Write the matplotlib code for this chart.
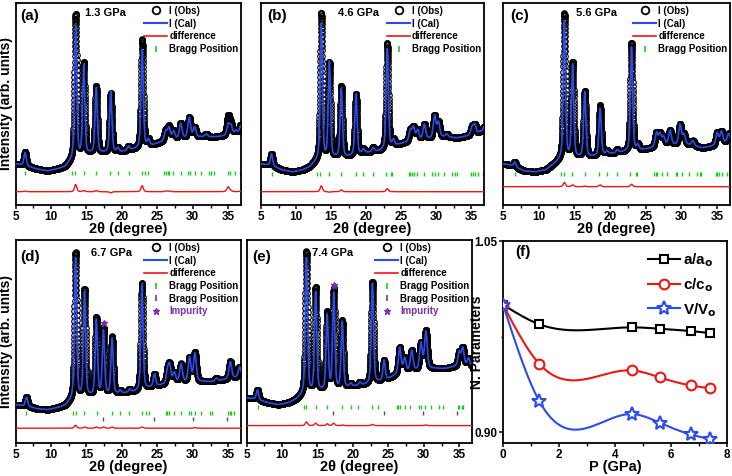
"""
plot.py - Rietveld fits of the XRD patterns at five pressures (a-e) and the
normalised lattice parameters vs pressure (f).
"""

import numpy as np
import matplotlib
matplotlib.use("Agg")
import matplotlib.pyplot as plt
from matplotlib.lines import Line2D

plt.rcParams["font.family"] = ["Liberation Sans", "DejaVu Sans"]
plt.rcParams["font.weight"] = "bold"
plt.rcParams["axes.labelweight"] = "bold"

# ----------------------------------------------------------------------------
# CONFIG
# ----------------------------------------------------------------------------
W, H = 732, 476
BLUE, RED, GREEN, PURPLE = "#2B4CEB", "#EE1515", "#22C822", "#7B2FA8"

FWHM_LOW, FWHM_HIGH, ETA = 0.38, 0.45, 0.4
DIFF_GAIN = 0.6
XLABEL_Y = -0.086          # top of the x label, in axes fraction

# background knots (2theta) shared by all patterns, intensities per panel
BG_X = [5, 6, 7, 8, 9.5, 11, 12, 13, 15.5, 17.5, 20, 22, 24.5, 26, 28, 31, 33, 34.5, 37]

# ---- (a) 1.3 GPa -----------------------------------------------------------
BG_A = [41, 40, 38, 36, 34, 36, 38, 45, 51, 52, 53, 56, 60, 64, 66, 68, 68, 69, 71]
POS_A = [6.35, 13.48, 14.62, 16.38, 18.43, 19.45, 20.95, 22.86, 23.75, 26.2, 26.65,
         27.3, 28.3, 29.5, 30.25, 31.9, 35.0, 35.4, 36.1, 36.75]
OBS_A = [14, 144, 92, 67, 59, 4, 4, 108, 6, 10, 13, 8, 15, 20, 10, 3, 19, 10, 4, 9]
CAL_A = [13, 132, 90, 65, 61, 4, 4, 98, 6, 9, 12, 8, 15, 20, 10, 3, 11, 9, 4, 8]
BRAGG_A = [6.35, 12.9, 13.45, 14.6, 16.35, 18.35, 19.45, 20.95, 22.85, 23.2, 23.7,
           25.95, 26.2, 26.45, 26.7, 27.15, 28.3, 29.3, 29.65, 30.3, 31.2, 32.25,
           32.6, 32.95, 35.0, 35.25, 35.95, 36.65]

# ---- (b) 4.6 GPa -----------------------------------------------------------
BG_B = [41, 40, 38, 35, 33, 35, 38, 44, 47, 48, 52, 54, 60, 63, 65, 68, 67, 69, 71]
POS_B = [6.5, 13.6, 14.75, 16.45, 18.55, 19.6, 21.0, 23.0, 23.9, 26.3, 26.75,
         27.35, 28.3, 29.75, 30.3, 31.5, 35.1, 35.5, 36.2, 36.8]
OBS_B = [12, 146, 95, 71, 61, 4, 4, 105, 6, 11, 13, 10, 15, 22, 15, 3, 8, 10, 3, 7]
CAL_B = [12, 136, 96, 68, 61, 4, 4, 100, 6, 11, 13, 10, 15, 22, 15, 3, 8, 10, 3, 7]
BRAGG_B = [6.5, 13.0, 13.45, 14.7, 16.45, 18.5, 19.55, 20.95, 22.85, 23.5, 23.75,
           26.05, 26.3, 26.55, 26.8, 27.25, 28.2, 29.35, 29.75, 30.2, 31.1, 32.2,
           32.6, 32.9, 35.0, 35.3, 35.5, 36.0, 36.65]

# ---- (c) 5.6 GPa -----------------------------------------------------------
BG_C = [41, 40, 37, 34, 33, 35, 40, 45, 47, 48, 51, 53, 55, 57, 60, 60, 57, 59, 64]
POS_C = [6.65, 13.6, 14.75, 16.45, 18.6, 19.6, 21.0, 23.0, 23.9, 26.5, 27.0, 27.5,
         28.4, 29.8, 30.35, 31.6, 35.0, 35.6, 36.6]
OBS_C = [5, 145, 95, 66, 50, 3, 3, 108, 5, 14, 12, 8, 14, 20, 10, 5, 12, 12, 8]
CAL_C = [5, 138, 92, 65, 47, 3, 3, 104, 5, 14, 12, 8, 14, 20, 10, 5, 12, 12, 8]
BRAGG_C = [6.68, 13.17, 13.54, 14.71, 16.43, 18.44, 19.51, 20.91, 22.78, 23.57,
           23.81, 26.14, 26.37, 26.6, 27.21, 28.0, 29.17, 29.4, 30.1, 31.04, 32.2,
           32.58, 32.77, 34.77, 35.0, 35.24, 35.7, 36.4]

# ---- (d) 6.7 GPa -----------------------------------------------------------
BG_D = [38, 37, 36, 34, 33, 35, 37, 43, 46, 47, 49, 51, 56, 58, 60, 61, 61, 63, 66]
POS_D = [6.55, 13.47, 14.73, 16.4, 17.4, 18.62, 19.75, 21.1, 22.83, 24.6, 26.45,
         26.75, 27.4, 28.35, 29.55, 30.3, 33.3, 35.3, 36.6]
OBS_D = [9, 145, 106, 77, 66, 57, 3, 3, 106, 12, 12, 16, 10, 18, 24, 29, 3, 17, 10]
CAL_D = [9, 140, 104, 75, 64, 55, 3, 3, 104, 12, 12, 16, 10, 18, 24, 28, 3, 17, 10]
BRAGG_D = [6.54, 13.1, 13.47, 14.73, 16.46, 18.62, 19.74, 21.05, 22.83, 23.39,
           23.76, 26.2, 26.43, 26.67, 27.37, 28.3, 29.47, 29.71, 30.32, 31.11,
           32.38, 32.75, 35.0, 35.18, 35.46, 35.79]
IMP_BRAGG_D = [17.4, 24.56, 30.08, 34.86]

# ---- (e) 7.4 GPa -----------------------------------------------------------
BG_E = [45, 44, 42, 40, 38, 40, 43, 48, 51, 52, 56, 58, 62, 67, 71, 74, 74, 76, 76]
POS_E = [6.55, 13.45, 14.75, 16.38, 17.3, 18.5, 19.7, 21.0, 22.75, 24.4, 26.6,
         27.3, 28.3, 29.6, 30.3, 35.0, 35.5, 36.3]
OBS_E = [10, 141, 103, 77, 100, 67, 3, 3, 101, 20, 26, 14, 20, 26, 38, 14, 18, 8]
CAL_E = [10, 135, 99, 74, 96, 66, 3, 3, 99, 20, 26, 14, 20, 26, 37, 14, 18, 8]
BRAGG_E = [6.58, 13.11, 13.44, 14.74, 16.36, 18.44, 19.7, 20.76, 22.71, 23.54,
           26.19, 26.42, 26.65, 27.35, 28.04, 29.29, 29.57, 30.22, 30.96, 32.21,
           32.68, 34.76, 35.0, 35.32, 35.6]
IMP_BRAGG_E = [17.24, 24.33, 29.9, 34.67]

# ---- (f) normalised lattice parameters --------------------------------------
P_GPA = [0.0, 1.3, 4.6, 5.6, 6.7, 7.4]
A_A0 = [1.000, 0.9846, 0.9822, 0.9811, 0.9793, 0.9777]
C_C0 = [1.000, 0.9534, 0.9484, 0.9429, 0.9366, 0.9343]
V_V0 = [1.000, 0.9241, 0.9141, 0.9073, 0.8981, 0.8945]


# ----------------------------------------------------------------------------
# HELPERS
# ----------------------------------------------------------------------------
def px_axes(fig, left, right, top, bottom):
    return fig.add_axes([left / W, 1 - bottom / H, (right - left) / W, (bottom - top) / H])


def profile(x, bg, pos, amp):
    """Background (linear between knots) + pseudo-Voigt peaks."""
    y = np.interp(x, BG_X, bg).astype(float)
    for p, a in zip(pos, amp):
        w = FWHM_LOW if p < 25 else FWHM_HIGH
        u = (x - p) / w
        y += a * (ETA / (1 + 4 * u ** 2) + (1 - ETA) * np.exp(-4 * np.log(2) * u ** 2))
    return y


def natural_spline(x, y, n=300):
    """Smooth connector through the points (like Origin's spline line)."""
    x = np.asarray(x, float); y = np.asarray(y, float)
    m = len(x); h = np.diff(x)
    A = np.zeros((m, m)); r = np.zeros(m)
    A[0, 0] = A[-1, -1] = 1
    for i in range(1, m - 1):
        A[i, i - 1], A[i, i], A[i, i + 1] = h[i - 1], 2 * (h[i - 1] + h[i]), h[i]
        r[i] = 3 * ((y[i + 1] - y[i]) / h[i] - (y[i] - y[i - 1]) / h[i - 1])
    c = np.linalg.solve(A, r)
    b = (y[1:] - y[:-1]) / h - h * (2 * c[:-1] + c[1:]) / 3
    d = (c[1:] - c[:-1]) / (3 * h)
    xs = np.linspace(x[0], x[-1], n)
    k = np.clip(np.searchsorted(x, xs) - 1, 0, m - 2)
    t = xs - x[k]
    return xs, y[k] + b[k] * t + c[k] * t ** 2 + d[k] * t ** 3


def style_axes(ax):
    for s in ax.spines.values():
        s.set_linewidth(1.3)
    ax.tick_params(which="major", direction="out", length=3, width=1.1, labelsize=8.5, pad=1.0)
    ax.tick_params(which="minor", direction="out", length=1.8, width=1.0)
    for lab in ax.get_xticklabels() + ax.get_yticklabels():
        lab.set_fontweight("bold")
    ax.xaxis.set_label_coords(0.5, XLABEL_Y)


def draw_xrd(ax, p):
    x = np.arange(5.0, 37.0, 0.01)
    obs = profile(x, p["bg"], p["pos"], p["obs"])
    cal = profile(x, p["bg"], p["pos"], p["cal"])
    ax.plot(x, obs, ls="none", marker="o", ms=4.0, mfc="none", mec="k", mew=0.8, zorder=2)
    ax.plot(x, cal, color=BLUE, lw=1.2, zorder=3)
    ax.plot(x, p["diff_y"] + DIFF_GAIN * (obs - cal), color=RED, lw=1.0, zorder=3)
    ty = p["tick_y"]
    ax.vlines(p["bragg"], ty - 2, ty + 2, color=GREEN, lw=1.0)

    handles = [
        Line2D([], [], ls="none", marker="o", ms=5.5, mfc="none", mec="k", mew=1.3),
        Line2D([], [], color=BLUE, lw=1.5),
        Line2D([], [], color=RED, lw=1.2),
        Line2D([], [], ls="none", marker="|", ms=5, mew=1.2, color=GREEN),
    ]
    labels = ["I (Obs)", "I (Cal)", "difference", "Bragg Position"]
    if "imp_bragg" in p:
        ax.vlines(p["imp_bragg"], ty - 8, ty - 4, color=PURPLE, lw=1.0)
        ax.plot([p["star"][0]], [p["star"][1]], ls="none", marker="*", ms=5, color=PURPLE)
        handles += [Line2D([], [], ls="none", marker="|", ms=5, mew=1.2, color=PURPLE),
                    Line2D([], [], ls="none", marker="*", ms=5, color=PURPLE)]
        labels += ["Bragg Position", "Impurity"]

    leg = ax.legend(handles, labels, loc="upper right", bbox_to_anchor=(1.01, 1.01),
                    frameon=False, numpoints=1, prop=dict(weight="bold", size=7),
                    handlelength=2.3, handletextpad=0.25, labelspacing=0.28,
                    borderaxespad=0.2, borderpad=0.3)
    if "imp_bragg" in p:
        leg.get_texts()[-1].set_color(PURPLE)

    ax.set_xlim(5, 36.8)
    ax.set_ylim(0, 202)
    ax.set_xticks([5, 10, 15, 20, 25, 30, 35])
    ax.set_xticks(np.arange(7.5, 36, 5), minor=True)
    ax.set_yticks([])
    ax.set_xlabel("2\u03b8 (degree)", fontsize=10.5)
    ax.text(p["lab_x"], p["lab_y"], p["tag"], transform=ax.transAxes, fontsize=11,
            fontweight="bold", va="center")
    ax.text(p["gpa_x"], p["gpa_y"], p["gpa"], transform=ax.transAxes, fontsize=8,
            fontweight="bold", va="center")
    style_axes(ax)


# ----------------------------------------------------------------------------
# PLOT
# ----------------------------------------------------------------------------
fig = plt.figure(figsize=(W / 100, H / 100), dpi=100)

panels = [
    dict(box=(15.5, 241, 3, 205), bg=BG_A, pos=POS_A, obs=OBS_A, cal=CAL_A, bragg=BRAGG_A,
         tick_y=31.7, diff_y=13.3, tag="(a)", gpa="1.3 GPa",
         lab_x=0.02, lab_y=0.935, gpa_x=0.31, gpa_y=0.95),
    dict(box=(261, 484, 3, 205), bg=BG_B, pos=POS_B, obs=OBS_B, cal=CAL_B, bragg=BRAGG_B,
         tick_y=31.0, diff_y=13.3, tag="(b)", gpa="4.6 GPa",
         lab_x=0.027, lab_y=0.935, gpa_x=0.345, gpa_y=0.95),
    dict(box=(503, 730, 3, 205), bg=BG_C, pos=POS_C, obs=OBS_C, cal=CAL_C, bragg=BRAGG_C,
         tick_y=31.0, diff_y=18.3, tag="(c)", gpa="5.6 GPa",
         lab_x=0.031, lab_y=0.935, gpa_x=0.32, gpa_y=0.95),
    dict(box=(15.5, 241, 240, 443), bg=BG_D, pos=POS_D, obs=OBS_D, cal=CAL_D, bragg=BRAGG_D,
         imp_bragg=IMP_BRAGG_D, star=(17.5, 119), tick_y=29.7, diff_y=14.7,
         tag="(d)", gpa="6.7 GPa", lab_x=0.02, lab_y=0.918, gpa_x=0.335, gpa_y=0.936),
    dict(box=(246.5, 472, 240, 443), bg=BG_E, pos=POS_E, obs=OBS_E, cal=CAL_E, bragg=BRAGG_E,
         imp_bragg=IMP_BRAGG_E, star=(17.3, 157), tick_y=36.3, diff_y=17.3,
         tag="(e)", gpa="7.4 GPa", lab_x=0.024, lab_y=0.918, gpa_x=0.29, gpa_y=0.936),
]

for i, p in enumerate(panels):
    ax = px_axes(fig, *p["box"])
    draw_xrd(ax, p)
    if i in (0, 3):
        ax.set_ylabel("Intensity (arb. units)", fontsize=10, labelpad=2)

# --- (f) normalised parameters vs pressure -----------------------------------
ax = px_axes(fig, 503, 727, 241, 443)
series = [(A_A0, "k", "s", 6.0, r"a/a$_\mathbf{o}$"),
          (C_C0, RED, "o", 7.0, r"c/c$_\mathbf{o}$"),
          (V_V0, BLUE, "*", 10.5, r"V/V$_\mathbf{o}$")]
handles = []
for vals, col, mk, ms, lab in series:
    xs, ys = natural_spline(P_GPA, vals)
    ax.plot(xs, ys, color=col, lw=1.5, zorder=2)
    ax.plot(P_GPA, vals, ls="none", marker=mk, ms=ms, mfc="white", mec=col, mew=1.5, zorder=3)
    handles.append(Line2D([], [], color=col, lw=1.5, marker=mk, ms=ms, mfc="white",
                          mec=col, mew=1.5))
ax.legend(handles, [s[4] for s in series], loc="upper right", bbox_to_anchor=(1.0, 1.0),
          frameon=False, numpoints=1, prop=dict(weight="bold", size=11),
          handlelength=2.1, handletextpad=0.2, labelspacing=0.45, borderaxespad=0.3)
ax.set_xlim(0, 8)
ax.set_ylim(0.8914, 1.05)
ax.set_xticks([0, 2, 4, 6, 8])
ax.set_xticks([1, 3, 5, 7], minor=True)
ax.set_yticks([0.90, 1.05])
ax.set_yticks([0.975], minor=True)
ax.set_yticklabels(["0.90", "1.05"])
ax.set_xlabel("P (GPa)", fontsize=10.5)
ax.set_ylabel("N. Parameters", fontsize=10)
ax.yaxis.set_label_coords(-0.085, 0.5)
ax.text(0.054, 0.946, "(f)", transform=ax.transAxes, fontsize=11, fontweight="bold",
        va="center")
style_axes(ax)

fig.savefig("out.png", dpi=100)
